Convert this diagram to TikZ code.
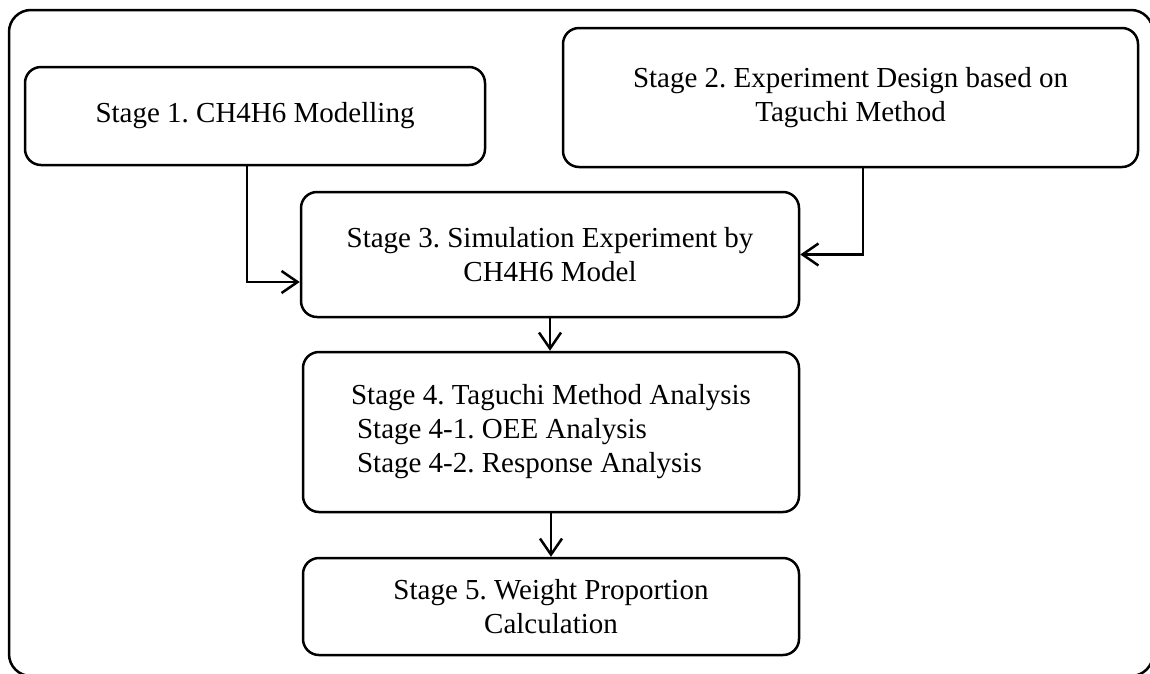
\documentclass[tikz,border=0pt]{standalone}
\usepackage{fontspec}
\setmainfont{Liberation Serif}
\usetikzlibrary{arrows.meta,calc}
\frenchspacing
\begin{document}
\begin{tikzpicture}[x=1pt,y=-1pt,
  stagebox/.style={draw,line width=2.5pt,rounded corners=16pt,inner sep=0pt,align=center,
    font=\fontsize{29}{34}\selectfont},
  arr/.style={line width=2.5pt,-{Straight Barb[length=16pt,width=22pt,line width=2.5pt]}}]
\useasboundingbox (0,0) rectangle (1150,673);
\clip (0,0) rectangle (1150,673);
\draw[line width=2.5pt,rounded corners=22pt] (9,10) rectangle (1153,676);
\node[stagebox,minimum width=460pt,minimum height=98pt] (box1) at (255,116) {Stage 1. CH4H6 Modelling};
\node[stagebox,minimum width=575pt,minimum height=139pt] (box2) at (850.5,97.5) {Stage 2. Experiment Design based on\\Taguchi Method};
\node[stagebox,minimum width=498pt,minimum height=125pt] (box3) at (550,254.5) {Stage 3. Simulation Experiment by\\CH4H6 Model};
\node[stagebox,minimum width=496pt,minimum height=160pt,align=left] (box4) at (551,432) {Stage 4. Taguchi Method Analysis\\\hspace*{6pt}Stage 4-1. OEE Analysis\\\hspace*{6pt}Stage 4-2. Response Analysis};
\node[stagebox,minimum width=496pt,minimum height=97pt] (box5) at (551,606.5) {Stage 5. Weight Proportion\\Calculation};
\coordinate (a1s) at ($(box1.south)+(-8,0)$);
\coordinate (a1e) at ($(box3.west)+(0,27.5)$);
\coordinate (a2s) at ($(box2.south)+(12.5,0)$);
\draw[arr] (a1s) |- (a1e);
\draw[arr] (a2s) |- (box3.east);
\draw[arr] (box3.south) -- (box3.south |- box4.north);
\draw[arr] (box4.south) -- (box5.north);
\end{tikzpicture}
\end{document}
